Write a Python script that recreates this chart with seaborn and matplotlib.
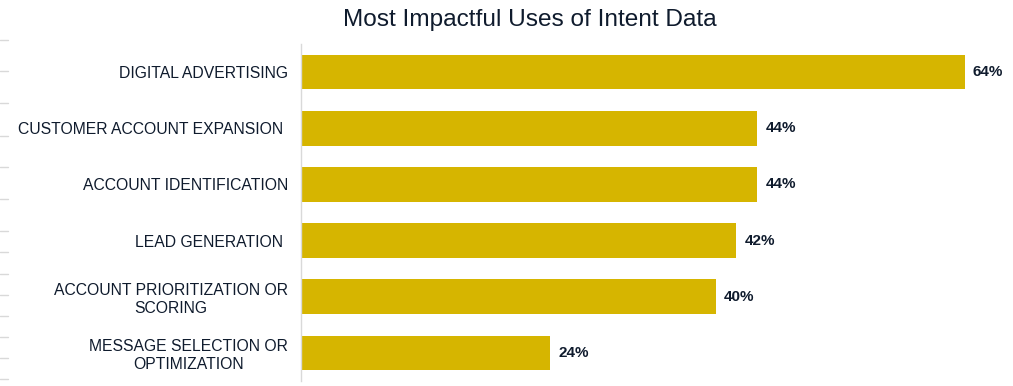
import matplotlib
matplotlib.use("Agg")
import matplotlib.pyplot as plt
import seaborn as sns
import pandas as pd
from matplotlib.lines import Line2D

categories = [
    "DIGITAL ADVERTISING",
    "CUSTOMER ACCOUNT EXPANSION ",
    "ACCOUNT IDENTIFICATION",
    "LEAD GENERATION ",
    "ACCOUNT PRIORITIZATION OR\nSCORING",
    "MESSAGE SELECTION OR\nOPTIMIZATION",
]
values = [64, 44, 44, 42, 40, 24]
title = "Most Impactful Uses of Intent Data"

sns.set_theme(style="white")
plt.rcParams["font.family"] = ["Liberation Sans", "DejaVu Sans"]

TEXT = "#0F1B2D"
BAR = "#D6B500"

df = pd.DataFrame({"cat": categories, "val": values})

W, H = 1013, 386
fig = plt.figure(figsize=(W / 100, H / 100), dpi=100)
ax = fig.add_axes([301 / W, 1 - 381 / H, 705 / W, 337 / H])

sns.barplot(data=df, x="val", y="cat", color=BAR, width=0.62, ax=ax,
            saturation=1, edgecolor="none")

ax.set_xlim(0, 68)
ax.set_ylim(5.5, -0.5)
ax.set_xlabel("")
ax.set_ylabel("")
ax.set_xticks([])
ax.tick_params(axis="y", length=0, pad=9.5)
for lab in ax.get_yticklabels():
    lab.set_fontsize(11.3)
    lab.set_color(TEXT)
    lab.set_multialignment("center")

for s in ["top", "right", "bottom"]:
    ax.spines[s].set_visible(False)
ax.spines["left"].set_color("#D9D9D9")
ax.spines["left"].set_linewidth(1)

for c in ax.containers:
    ax.bar_label(c, labels=[f"{v}%" for v in values], padding=6,
                 fontsize=11, fontweight="bold", color=TEXT)

fig.text(530 / W, 1 - 20 / H, title, ha="center", va="center",
         fontsize=17.6, color=TEXT)

# faint dashes on the left edge
for yp in [40, 71, 103, 136, 167, 199, 231, 252, 274, 295, 316, 337, 358, 379]:
    fig.add_artist(Line2D([0, 8 / W], [1 - yp / H, 1 - yp / H],
                          color="#D9D9D9", linewidth=1))

fig.savefig("out.png", dpi=100)
